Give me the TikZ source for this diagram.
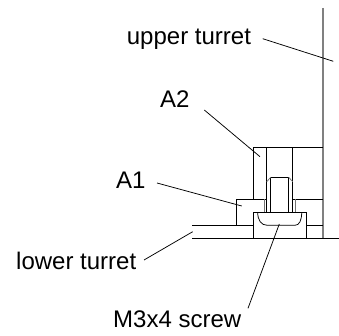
\documentclass[tikz,border=0pt]{standalone}
\usepackage{fontspec}
\setmainfont{Liberation Sans}
\definecolor{wallgray}{gray}{0.5}
\definecolor{softgray}{gray}{0.45}
\tikzset{
  x=1pt,y=-1pt,
  part/.style={draw=black,line width=0.75pt},
  gline/.style={draw=softgray,line width=0.75pt},
  wall/.style={draw=wallgray,line width=1.5pt},
  leader/.style={draw=black,line width=0.75pt},
  lab/.style={inner sep=0pt,font=\fontsize{24pt}{26pt}\selectfont,anchor=base west}
}
\begin{document}
\begin{tikzpicture}
\useasboundingbox (0,0) rectangle (339,336);
% labels
\node[lab] (ut) at (126.7,44.3) {upper turret};
\node[lab] (a2) at (160,108) {A2};
\node[lab] (a1) at (116,189) {A1};
\node[lab] (lt) at (16,269.5) {lower turret};
\node[lab] (sc) at (113,327.7) {M3x4 screw};
% drawing
\draw[wall] (323,8) -- (323,238.5);
\draw[part] (192,225.3) -- (253.3,225.3);
\draw[part] (306,225.3) -- (323,225.3);
\draw[part] (192,238.5) -- (339,238.5);
\draw[part] (236,225.3) -- (236,199.3) -- (266.7,199.3);
\draw[part] (292.7,199.3) -- (323,199.3);
\draw[part] (253.3,199.3) -- (253.3,147.3) -- (323,147.3);
\draw[part] (266.7,147.3) -- (266.7,212.3);
\draw[part] (292.7,147.3) -- (292.7,212.3);
\draw[gline] (264,199.3) -- (264,212.3);
\draw[gline] (295,199.3) -- (295,212.3);
\draw[part] (253.3,238.5) -- (253.3,212.3) -- (306,212.3) -- (306,238.5);
\draw[part] (257.7,212.3) .. controls (257.7,220) and (261,225.3) .. (267.3,225.3) -- (295,225.3) .. controls (299.5,225.3) and (301.7,220) .. (301.7,212.3);
\draw[part] (270.7,212.3) -- (270.7,177.3) -- (288.7,177.3) -- (288.7,212.3);
\draw[gline] (266.7,181.7) -- (270.7,177.3);
\draw[gline] (292.7,181.7) -- (288.7,177.3);
% leaders
\coordinate (utend) at (333.3,61.3);
\coordinate (utstart) at (262.7,38.7);
\coordinate (a2start) at (204.3,110);
\coordinate (a2end) at (260,156.7);
\coordinate (a1start) at (157,183);
\coordinate (a1end) at (241.7,206);
\coordinate (ltstart) at (144,260);
\coordinate (ltend) at (192.7,231.7);
\coordinate (scstart) at (248,308.3);
\coordinate (scend) at (279.3,224);
\draw[leader] (utstart) -- (utend);
\draw[leader] (a2start) -- (a2end);
\draw[leader] (a1start) -- (a1end);
\draw[leader] (ltstart) -- (ltend);
\draw[leader] (scstart) -- (scend);
\end{tikzpicture}
\end{document}
